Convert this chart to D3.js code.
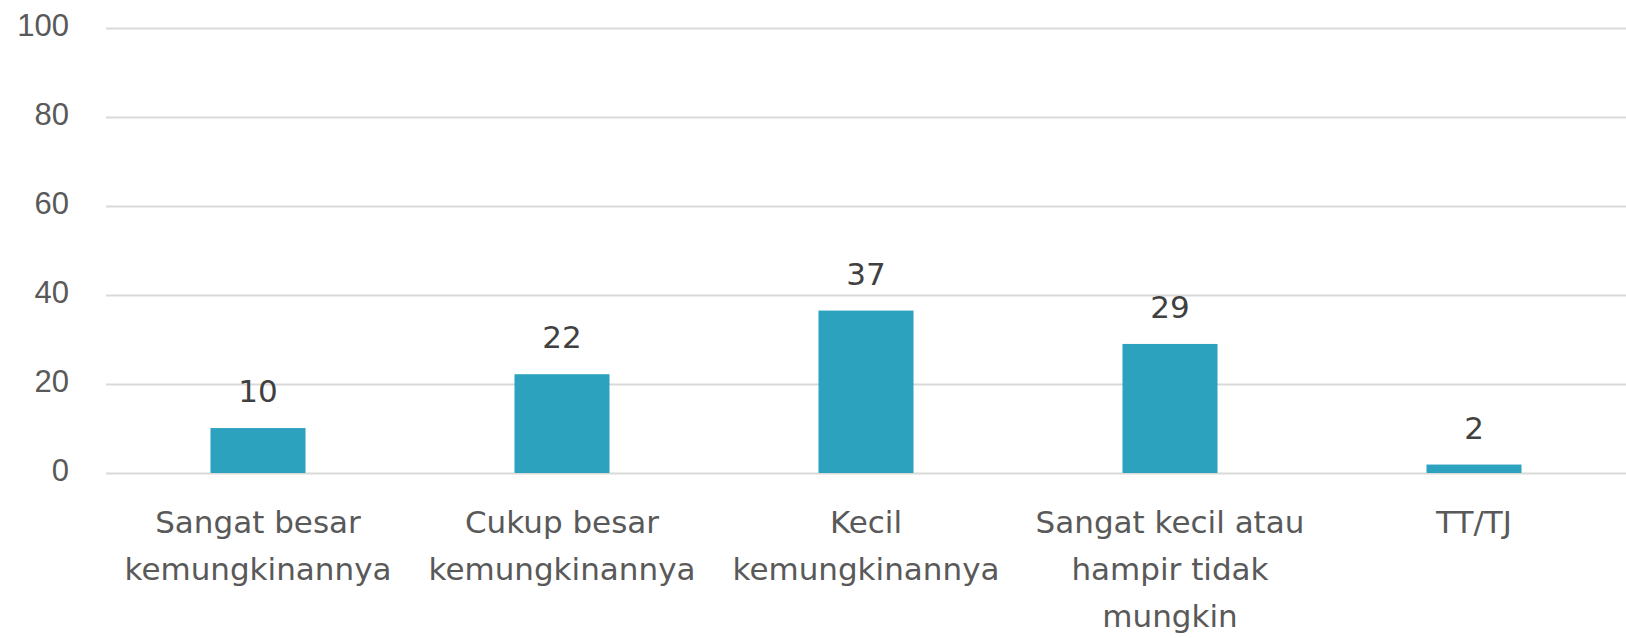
<!DOCTYPE html>
<html>
<head>
<meta charset="utf-8">
<script src="https://cdn.jsdelivr.net/npm/d3@7"></script>
<style>
  html, body { margin: 0; padding: 0; background: #fff; }
  svg { display: block; font-family: "DejaVu Sans", sans-serif; }
</style>
</head>
<body>
<script>
// data
const categories = [
  "Sangat besar\nkemungkinannya",
  "Cukup besar\nkemungkinannya",
  "Kecil\nkemungkinannya",
  "Sangat kecil atau\nhampir tidak\nmungkin",
  "TT/TJ"
];
const values = [10.1, 22.2, 36.5, 29.0, 1.9];
const valueLabels = ["10", "22", "37", "29", "2"];
const yTicks = [0, 20, 40, 60, 80, 100];

const width = 1626, height = 638;
const margin = { top: 28, right: 0, bottom: 165, left: 106 };

const svg = d3.select("body")
  .append("svg")
  .attr("width", width)
  .attr("height", height);

const x = d3.scaleBand()
  .domain(categories)
  .range([margin.left, width - margin.right])
  .paddingInner(0.6875)
  .paddingOuter(0.34375);

const y = d3.scaleLinear()
  .domain([0, 100])
  .range([height - margin.bottom, margin.top]);

// y axis + gridlines
const yAxis = d3.axisLeft(y)
  .tickValues(yTicks)
  .tickSize(-(width - margin.left - margin.right))
  .tickPadding(37)
  .tickFormat(d3.format("d"));

const gy = svg.append("g")
  .attr("class", "y-axis")
  .attr("transform", `translate(${margin.left},0)`)
  .call(yAxis);
gy.select(".domain").remove();
gy.selectAll(".tick line")
  .attr("stroke", "#d9d9d9")
  .attr("stroke-width", 2);
gy.selectAll(".tick text")
  .attr("fill", "#595959")
  .attr("font-size", 31)
  .attr("dy", "0.25em");

// bars
svg.append("g")
  .attr("class", "bars")
  .selectAll("rect")
  .data(values)
  .join("rect")
  .attr("x", (d, i) => x(categories[i]))
  .attr("width", x.bandwidth())
  .attr("y", d => y(d))
  .attr("height", d => y(0) - y(d))
  .attr("fill", "#2ca2bf");

// value labels
svg.append("g")
  .attr("class", "value-labels")
  .selectAll("text")
  .data(values)
  .join("text")
  .attr("x", (d, i) => x(categories[i]) + x.bandwidth() / 2)
  .attr("y", d => y(d) - 26)
  .attr("text-anchor", "middle")
  .attr("fill", "#404040")
  .attr("font-size", 31)
  .text((d, i) => valueLabels[i]);

// category labels
const cat = svg.append("g")
  .attr("class", "x-labels")
  .selectAll("text")
  .data(categories)
  .join("text")
  .attr("x", d => x(d) + x.bandwidth() / 2)
  .attr("y", y(0) + 60)
  .attr("text-anchor", "middle")
  .attr("fill", "#595959")
  .attr("font-size", 31);

cat.selectAll("tspan")
  .data(d => d.split("\n").map(t => ({ t, xc: x(d) + x.bandwidth() / 2 })))
  .join("tspan")
  .attr("x", d => d.xc)
  .attr("dy", (d, i) => i === 0 ? 0 : 47)
  .text(d => d.t);
</script>
</body>
</html>
